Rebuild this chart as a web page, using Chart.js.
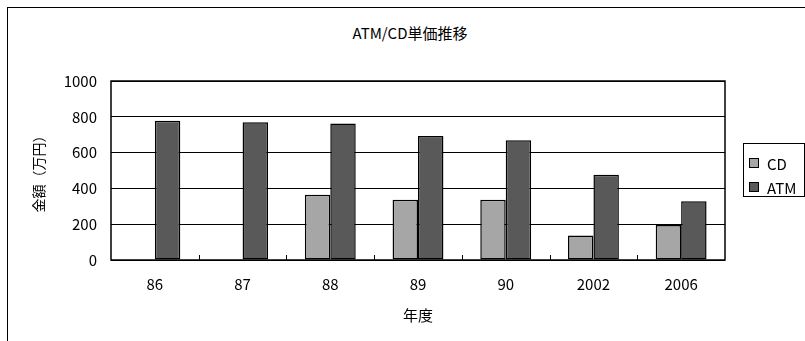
<!DOCTYPE html>
<html lang="ja">
<head>
    <meta charset="UTF-8">
    <title>ATM/CD単価推移</title>
    <style>
        * { margin: 0; padding: 0; box-sizing: border-box; }
        body { width: 805px; height: 341px; background: #fff; overflow: hidden; position: relative; font-family: 'Noto Sans CJK JP', sans-serif; }
        .frame { position: absolute; left: 7px; top: 7px; width: 820px; height: 360px; border-top: 1.5px solid #000; border-left: 1.5px solid #000; }
        .title { position: absolute; left: 310px; top: 23px; width: 200px; text-align: center; font-size: 15px; line-height: 20px; color: #000; }
        #chart-wrap { position: absolute; left: 0; top: 0; width: 805px; height: 341px; }
        .legend { position: absolute; left: 743px; top: 143px; width: 62px; height: 54px; border: 1px solid #000; background: #fff; padding: 7px 0 0 5px; }
        .legend div { display: flex; align-items: center; height: 24px; font-size: 15px; color: #000; }
        .legend span { display: inline-block; width: 10px; height: 10px; border: 1px solid #000; margin-right: 8px; }
    </style>
    <script src="https://cdn.jsdelivr.net/npm/chart.js"></script>
</head>
<body>
    <div class="frame"></div>
    <div class="title">ATM/CD単価推移</div>
    <div id="chart-wrap"><canvas id="unit-price"></canvas></div>
    <div class="legend" id="legend"></div>

    <script>
        // 年度ごとの単価（万円）
        const years = ['86', '87', '88', '89', '90', '2002', '2006'];
        const cdPrice = [null, null, 365, 337, 337, 137, 195];
        const atmPrice = [778, 770, 762, 693, 669, 476, 328];
        const yTicks = [0, 200, 400, 600, 800, 1000];

        const seriesNames = ['CD', 'ATM'];
        const seriesColors = ['#a6a6a6', '#595959'];
        const font = "'Noto Sans CJK JP', sans-serif";

        // 凡例（枠付き）
        const legend = document.getElementById('legend');
        seriesNames.forEach((name, i) => {
            const row = document.createElement('div');
            row.innerHTML = `<span style="background:${seriesColors[i]}"></span>${name}`;
            legend.appendChild(row);
        });

        // プロットエリアの枠と、x軸の内向き目盛り
        const plotFrame = {
            id: 'plotFrame',
            afterDatasetsDraw(chart) {
                const { ctx, chartArea: a, scales: { x } } = chart;
                ctx.save();
                ctx.strokeStyle = '#000';
                ctx.lineWidth = 1.5;
                ctx.strokeRect(a.left, a.top, a.right - a.left, a.bottom - a.top);
                ctx.lineWidth = 1;
                for (let i = 1; i < years.length; i++) {
                    const px = Math.round((x.getPixelForTick(i - 1) + x.getPixelForTick(i)) / 2) + 0.5;
                    ctx.beginPath();
                    ctx.moveTo(px, a.bottom);
                    ctx.lineTo(px, a.bottom - 5);
                    ctx.stroke();
                }
                ctx.restore();
            }
        };

        new Chart(document.getElementById('unit-price'), {
            type: 'bar',
            data: {
                labels: years,
                datasets: [
                    { label: seriesNames[0], data: cdPrice, backgroundColor: seriesColors[0] },
                    { label: seriesNames[1], data: atmPrice, backgroundColor: seriesColors[1] }
                ]
            },
            options: {
                responsive: true,
                maintainAspectRatio: false,
                animation: false,
                layout: { padding: { left: 8, right: 80, top: 81, bottom: 17 } },
                datasets: {
                    bar: { categoryPercentage: 0.58, barPercentage: 1, borderColor: '#000', borderWidth: 1.5, borderSkipped: false }
                },
                plugins: {
                    legend: { display: false },
                    tooltip: { enabled: false },
                    title: { display: false }
                },
                scales: {
                    x: {
                        grid: { display: false, drawTicks: false },
                        border: { display: false },
                        ticks: { color: '#000', padding: 15, font: { family: font, size: 15 } },
                        title: { display: true, text: '年度', color: '#000', font: { family: font, size: 15 }, padding: { top: -2, bottom: 0 } }
                    },
                    y: {
                        min: 0,
                        max: 1000,
                        afterBuildTicks(scale) { scale.ticks = yTicks.map(v => ({ value: v })); },
                        afterFit(scale) { scale.width = 103; },
                        grid: { color: '#000', lineWidth: 1, drawTicks: false },
                        border: { display: false },
                        ticks: { color: '#000', padding: 14, font: { family: font, size: 15 }, callback: v => String(v) },
                        title: { display: true, text: '金額（万円）', color: '#000', font: { family: font, size: 14 }, padding: { top: 22, bottom: 0 } }
                    }
                }
            },
            plugins: [plotFrame]
        });
    </script>
</body>
</html>
